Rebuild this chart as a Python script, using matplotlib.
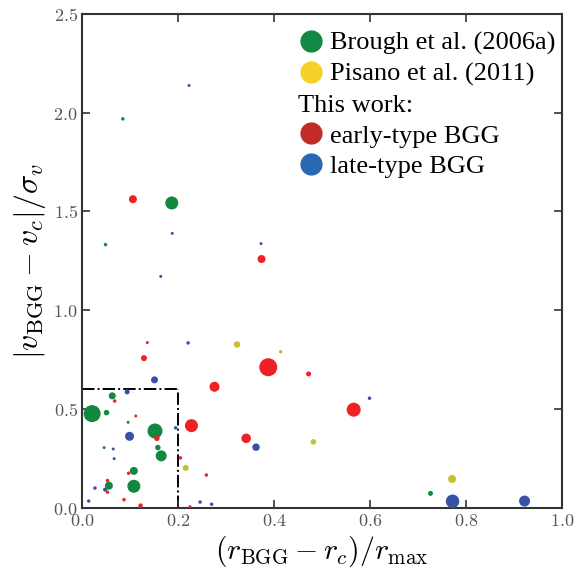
import matplotlib
matplotlib.use('Agg')
import matplotlib.pyplot as plt
from matplotlib.lines import Line2D
from matplotlib.transforms import ScaledTranslation

# Brough et al. (2006a)
brough_x = [0.021, 0.051, 0.063, 0.096, 0.152, 0.158, 0.046, 0.165, 0.108, 0.108, 0.056,
            0.726, 0.085, 0.187, 0.049]
brough_y = [0.476, 0.481, 0.566, 0.432, 0.388, 0.304, 0.304, 0.262, 0.186, 0.108, 0.111,
            0.072, 1.969, 1.543, 1.332]
brough_d = [17, 5.5, 7, 3, 15, 5.5, 3, 11, 8, 13, 8, 5, 3.5, 13, 3.5]

# Pisano et al. (2011)
pisano_x = [0.323, 0.414, 0.216, 0.482, 0.771]
pisano_y = [0.826, 0.789, 0.201, 0.333, 0.145]
pisano_d = [6.5, 3.5, 6, 5.5, 8]

# this work: early-type BGG
early_x = [0.136, 0.129, 0.068, 0.276, 0.112, 0.228, 0.156, 0.342, 0.205, 0.097, 0.259,
           0.053, 0.053, 0.0875, 0.122, 0.225, 0.388, 0.472, 0.566, 0.106, 0.374]
early_y = [0.836, 0.757, 0.540, 0.612, 0.464, 0.415, 0.351, 0.351, 0.252, 0.174, 0.165,
           0.137, 0.078, 0.040, 0.010, 0.005, 0.711, 0.677, 0.496, 1.562, 1.259]
early_d = [3, 6, 3.5, 10, 3, 13, 5.5, 9.5, 3.5, 3.5, 3.5, 3.5, 3.5, 3.5, 4.5, 3, 18, 5,
           14, 8, 8]

# this work: late-type BGG
late_x = [0.221, 0.151, 0.094, 0.195, 0.099, 0.065, 0.067, 0.027, 0.048, 0.014, 0.246,
          0.270, 0.599, 0.3625, 0.772, 0.922, 0.223, 0.188, 0.164, 0.373]
late_y = [0.834, 0.647, 0.586, 0.404, 0.361, 0.297, 0.248, 0.099, 0.091, 0.033, 0.028,
          0.017, 0.554, 0.306, 0.032, 0.033, 2.138, 1.389, 1.171, 1.337]
late_d = [3.5, 7, 5, 3.5, 9, 3, 3, 3.5, 4, 3.5, 3.5, 3.5, 3.5, 7.5, 13.5, 11, 3, 3, 3, 3]

xticks = [0, 0.2, 0.4, 0.6, 0.8, 1.0]
yticks = [0, 0.5, 1.0, 1.5, 2.0, 2.5]

plt.rcParams['mathtext.fontset'] = 'cm'

dpi = 100
fig = plt.figure(figsize=(5.76, 5.72), dpi=dpi)
ax = fig.add_axes([0.1424, 0.1126, 0.8333, 0.8629])


def s(d):
    # marker diameter in pixels -> scatter area in points^2
    return [(v * 72.0 / dpi) ** 2 for v in d]


ax.scatter(brough_x, brough_y, s=s(brough_d), color='#10893f', lw=0, zorder=2)
ax.scatter(pisano_x, pisano_y, s=s(pisano_d), color='#c3c12f', lw=0, zorder=2)
ax.scatter(early_x, early_y, s=s(early_d), color='#ee2124', lw=0, zorder=3)
ax.scatter(late_x, late_y, s=s(late_d), color='#3853a6', lw=0, zorder=3)

# box marking the inner region
ax.plot([0, 0.2], [0.6, 0.6], color='k', ls='-.', lw=1.4, zorder=1)
ax.plot([0.2, 0.2], [0, 0.6], color='k', ls='-.', lw=1.4, zorder=1)

ax.set_xlim(0, 1.0)
ax.set_ylim(0, 2.5)
ax.set_xticks(xticks)
ax.set_yticks(yticks)
ax.set_xticklabels([r'$%.1f$' % t for t in xticks])
ax.set_yticklabels([r'$%.1f$' % t for t in yticks])
ax.tick_params(direction='in', top=True, right=True, length=6, width=1.2,
               labelsize=13, colors='#333333', labelcolor='#555555', pad=3)
for sp in ax.spines.values():
    sp.set_linewidth(1.5)
    sp.set_color('#333333')

ax.set_xlabel(r'$(r_{\rm BGG}-r_c)/r_{\rm max}$', fontsize=21.5, labelpad=3)
ax.set_ylabel(r'$|v_{\rm BGG}-v_c|/\sigma_v$', fontsize=23, labelpad=4)

handles = [
    Line2D([], [], ls='', marker='o', ms=16, color='#138a43', mec='none'),
    Line2D([], [], ls='', marker='o', ms=16, color='#f4d22b', mec='none'),
    Line2D([], [], ls='', marker='', color='none'),
    Line2D([], [], ls='', marker='o', ms=16, color='#c42b26', mec='none'),
    Line2D([], [], ls='', marker='o', ms=16, color='#2b68b4', mec='none'),
]
labels = ['Brough et al. (2006a)', 'Pisano et al. (2011)', 'This work:',
          'early-type BGG', 'late-type BGG']
leg = ax.legend(handles, labels, loc='upper right', bbox_to_anchor=(1.017, 0.994),
                frameon=False, prop={'family': 'Liberation Serif', 'size': 19},
                handlelength=0.85, handletextpad=0.3, labelspacing=0.27,
                borderaxespad=0.1, borderpad=0.45)
fig.canvas.draw()
# "This work:" has no marker, shift its text left to the marker column
txt = leg.get_texts()[2]
bb_txt = txt.get_window_extent()
bb_ref = leg.get_texts()[0].get_window_extent()
left_px = bb_ref.x0 - 32
off = ScaledTranslation(-(bb_txt.x0 - left_px) / dpi, 0, fig.dpi_scale_trans)
txt.set_transform(txt.get_transform() + off)

fig.savefig('out.png', dpi=dpi)
